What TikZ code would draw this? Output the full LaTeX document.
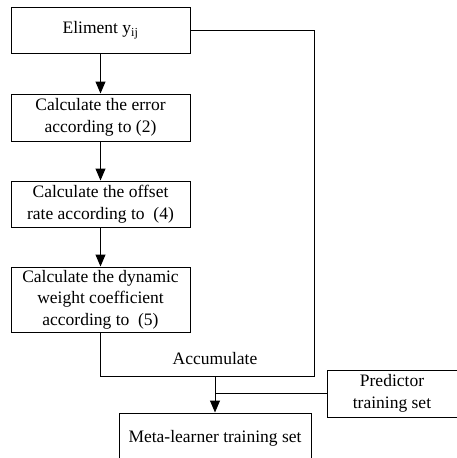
\documentclass[tikz,border=0pt]{standalone}
\usepackage{fontspec}
\setmainfont{Liberation Serif}
\usetikzlibrary{arrows.meta}
\tikzset{
	stepbox/.style={draw, line width=1pt, minimum width=179pt, align=center, inner sep=1pt,
		font=\fontsize{17.5}{21.5}\selectfont},
	arr/.style={line width=1pt, -{Triangle[width=10pt,length=12pt]}},
	wire/.style={line width=1pt}
}
\begin{document}
\begin{tikzpicture}[x=1pt,y=-1pt]
				\useasboundingbox (0,0) rectangle (457,458);
				\clip (0,0) rectangle (457,458);
				\node[stepbox, minimum height=46pt] (elem) at (100.5,30) {Eliment y\textsubscript{ij}};
				\node[stepbox, minimum height=47pt] (err) at (100.5,117.5) {Calculate the error\\according to (2)};
				\node[stepbox, minimum height=46pt] (off) at (100.5,204) {Calculate the offset\\rate according to \ (4)};
				\node[stepbox, minimum height=65pt] (weight) at (100.5,299.5) {Calculate the dynamic\\weight coefficient\\according to \ (5)};
				\node[stepbox, minimum width=192pt, minimum height=50pt] (meta) at (215,438) {Meta-learner training set};
				\node[stepbox, minimum width=130pt, minimum height=47pt] (pred) at (392,393.5) {Predictor\\training set};
				\node[font=\fontsize{17.5}{21.5}\selectfont] (acc) at (215,359) {Accumulate};
				\coordinate (join) at (215,376);
				\coordinate (rt) at (314,376);
				\draw[arr] (elem) -- (err);
				\draw[arr] (err) -- (off);
				\draw[arr] (off) -- (weight);
				\draw[wire] (elem.east) -| (rt) -- (join);
				\draw[wire] (weight.south) |- (join);
				\draw[arr] (join) -- (meta.north);
				\draw[wire] (pred.west) -- (pred.west -| join);
			\end{tikzpicture}
\end{document}
